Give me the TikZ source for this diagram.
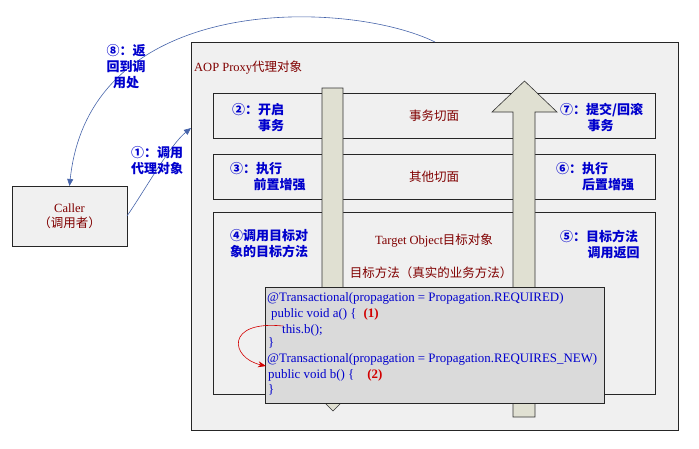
\documentclass[tikz,border=0pt]{standalone}
\usepackage{fontspec}
\setmainfont{Liberation Serif}
\newfontfamily\cjk{Noto Sans CJK SC}
\usetikzlibrary{arrows.meta,calc,positioning}
\tikzset {>=Stealth}

\definecolor{boxgray}{RGB}{240,240,240}
\definecolor{shaftgray}{RGB}{224,224,210}
\definecolor{codegray}{RGB}{218,218,218}
\definecolor{stepblue}{RGB}{0,0,205}
\definecolor{darkred}{RGB}{128,0,0}
\definecolor{flowblue}{RGB}{70,100,170}
\definecolor{tagred}{RGB}{210,0,0}

\tikzset{
  panel/.style={draw=black!85,fill=boxgray,line width=.8pt,inner sep=0pt,outer sep=0pt},
  shaftarrow/.style={draw=black!80,fill=shaftgray,line width=.6pt},
  codebox/.style={draw=black!85,fill=codegray,line width=.8pt,inner sep=0pt,outer sep=0pt},
  steplabel/.style={text=stepblue,font=\cjk\bfseries\fontsize{13}{16}\selectfont,align=left,inner sep=0pt,anchor=west},
  darklabel/.style={text=darkred,font=\fontsize{12.5}{15}\selectfont,inner sep=0pt},
  codeline/.style={text=stepblue,font=\fontsize{12.9}{15}\selectfont,inner sep=0pt,anchor=west},
  flow/.style={draw=flowblue,line width=.6pt,-{Triangle[length=7pt,width=6pt]}}
}

\begin{document}
\begin{tikzpicture}[x=1pt,y=-1pt]
\useasboundingbox (0,0) rectangle (699,448);

% outer proxy and the caller
\node[panel,minimum width=487,minimum height=388] (proxy) at (434.5,236) {};
\node[panel,minimum width=115,minimum height=60,darklabel,align=center] (caller) at (69.5,216) {Caller\\{\cjk （调用者）}};
\node[darklabel,anchor=west] (proxytitle) at (194,68) {AOP Proxy{\cjk 代理对象}};

% aspect rows
\node[panel,minimum width=442,minimum height=45] (tx) at (434,115.5) {};
\node[panel,minimum width=442,minimum height=45] (other) at (434,176.5) {};
\node[panel,minimum width=442,minimum height=182] (target) at (434,303) {};

% down and up arrows
\draw[shaftarrow] (322,88) -- (343,88) -- (343,390) -- (354,390) -- (333,411) -- (312,390) -- (322,390) -- cycle;
\draw[shaftarrow] (513,417) -- (535,417) -- (535,112) -- (557,112) -- (524.5,81) -- (492,112) -- (513,112) -- cycle;

% row texts
\node[darklabel] (txname) at (tx) {\cjk 事务切面};
\node[darklabel] (othername) at (other) {\cjk 其他切面};
\node[darklabel] (targetname) at (434,241) {Target Object{\cjk 目标对象}};
\node[darklabel] (methodname) at (431,273) {\cjk 目标方法（真实的业务方法）};

\node[steplabel] (s2) at ($(tx.west)+(19,2)$) {②：开启\\\hspace*{2em}事务};
\node[steplabel] (s3) at ($(other.west)+(17,0)$) {③：执行\\\hspace*{1.8em}前置增强};
\node[steplabel] (s4) at (230,244) {④调用目标对\\象的目标方法};
\node[steplabel] (s7) at (560,117) {⑦：提交/回滚\\\hspace*{2.1em}事务};
\node[steplabel] (s6) at (556,176.5) {⑥：执行\\\hspace*{2em}后置增强};
\node[steplabel] (s5) at (560,244) {⑤：目标方法\\\hspace*{2.1em}调用返回};

% code of the target object
\node[codebox,minimum width=339,minimum height=116] (code) at (434.5,345) {};
\node[codeline] (l1) at (267,298) {@Transactional(propagation = Propagation.REQUIRED)};
\node[codeline] (l2) at (271,314) {public void a() \{\hspace{7pt}\textcolor{tagred}{\bfseries(1)}};
\node[codeline] (l3) at (282,330) {this.b();};
\node[codeline] (l4) at (268,343) {\}};
\node[codeline] (l5) at (267,359) {@Transactional(propagation = Propagation.REQUIRES\_NEW)};
\node[codeline] (l6) at (268,375) {public void b() \{\hspace{13pt}\textcolor{tagred}{\bfseries(2)}};
\node[codeline] (l7) at (268,390) {\}};

\coordinate (callA) at (283,326);
\coordinate (callB) at (266,366);
\draw[tagred,line width=.6pt,-{Stealth[length=8pt,width=6pt]}] (callA) .. controls (225,320) and (230,358) .. (callB);

% call and return
\coordinate (inA) at ($(proxy.north west)+(0,86)$);
\coordinate (outA) at ($(proxy.north west)+(244,0)$);
\draw[flow] (caller.east) .. controls (145,190) and (170,145) .. (inA);
\draw[flow] (outA) .. controls (350,0) and (90,-10) .. (caller.north);

\node[steplabel,anchor=center,align=center] (s1) at (157,161) {①：调用\\代理对象};
\node[steplabel,anchor=center,align=center] (s8) at (126,67) {⑧：返\\回到调\\用处};
\end{tikzpicture}
\end{document}
